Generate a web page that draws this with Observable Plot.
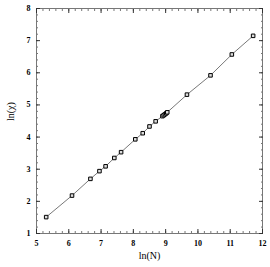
<!DOCTYPE html>
<html><head><meta charset="utf-8">
<script src="https://cdn.jsdelivr.net/npm/d3@7"></script>
<script src="https://cdn.jsdelivr.net/npm/@observablehq/plot@0.6"></script>
<style>body{margin:0;background:#fff}</style>
</head><body>
<div id="chart"></div>
<script>
const lnN   = [5.30, 6.10, 6.67, 6.95, 7.14, 7.41, 7.62, 8.06, 8.29, 8.50, 8.69, 8.90, 8.94, 8.98, 9.02, 9.05, 9.66, 10.39, 11.05, 11.71];
const lnChi = [1.51, 2.18, 2.70, 2.94, 3.09, 3.35, 3.53, 3.93, 4.12, 4.33, 4.49, 4.65, 4.68, 4.71, 4.74, 4.77, 5.32, 5.92, 6.57, 7.15];
const xMajor = [5, 6, 7, 8, 9, 10, 11, 12];
const yMajor = [1, 2, 3, 4, 5, 6, 7, 8];
const xLabel = "ln(N)";
const yLabel = "ln(χ)";

const data = lnN.map((x, i) => ({x, y: lnChi[i]}));
const xMinor = d3.range(5, 12.001, 0.2).map(v => +v.toFixed(1));
const yMinor = d3.range(1, 8.001, 0.2).map(v => +v.toFixed(1));
const axisColor = "#777";

const chart = Plot.plot({
  width: 270, height: 267,
  marginLeft: 36, marginRight: 8, marginTop: 8, marginBottom: 34,
  style: {fontFamily: "Liberation Serif", fontSize: "8px", color: "#000", background: "#fff"},
  x: {domain: [5, 12]},
  y: {domain: [1, 8]},
  marks: [
    Plot.frame({stroke: axisColor}),
    Plot.axisX(xMinor, {anchor: "bottom", tickSize: -2, text: null, stroke: axisColor, label: null}),
    Plot.axisX(xMinor, {anchor: "top", tickSize: -2, text: null, stroke: axisColor, label: null}),
    Plot.axisY(yMinor, {anchor: "left", tickSize: -2, text: null, stroke: axisColor, label: null}),
    Plot.axisY(yMinor, {anchor: "right", tickSize: -2, text: null, stroke: axisColor, label: null}),
    Plot.axisX(xMajor, {anchor: "bottom", tickSize: -4, tickPadding: 11, stroke: "#333", fontWeight: "bold", label: null}),
    Plot.axisX(xMajor, {anchor: "top", tickSize: -4, text: null, stroke: "#333", label: null}),
    Plot.axisY(yMajor, {anchor: "left", tickSize: -4, tickPadding: 10, stroke: "#333", fontWeight: "bold", label: null}),
    Plot.axisY(yMajor, {anchor: "right", tickSize: -4, text: null, stroke: "#333", label: null}),
    Plot.line(data, {x: "x", y: "y", stroke: "#555", strokeWidth: 0.8}),
    Plot.dot(data, {x: "x", y: "y", symbol: "square", r: 2, stroke: "#000", fill: "#ddd", strokeWidth: 1}),
    Plot.text([xLabel], {frameAnchor: "bottom", dy: 25, fontSize: 10}),
    Plot.text([yLabel], {frameAnchor: "left", dx: -26, rotate: -90, fontSize: 10})
  ]
});
document.getElementById("chart").appendChild(chart);
</script>
</body></html>
